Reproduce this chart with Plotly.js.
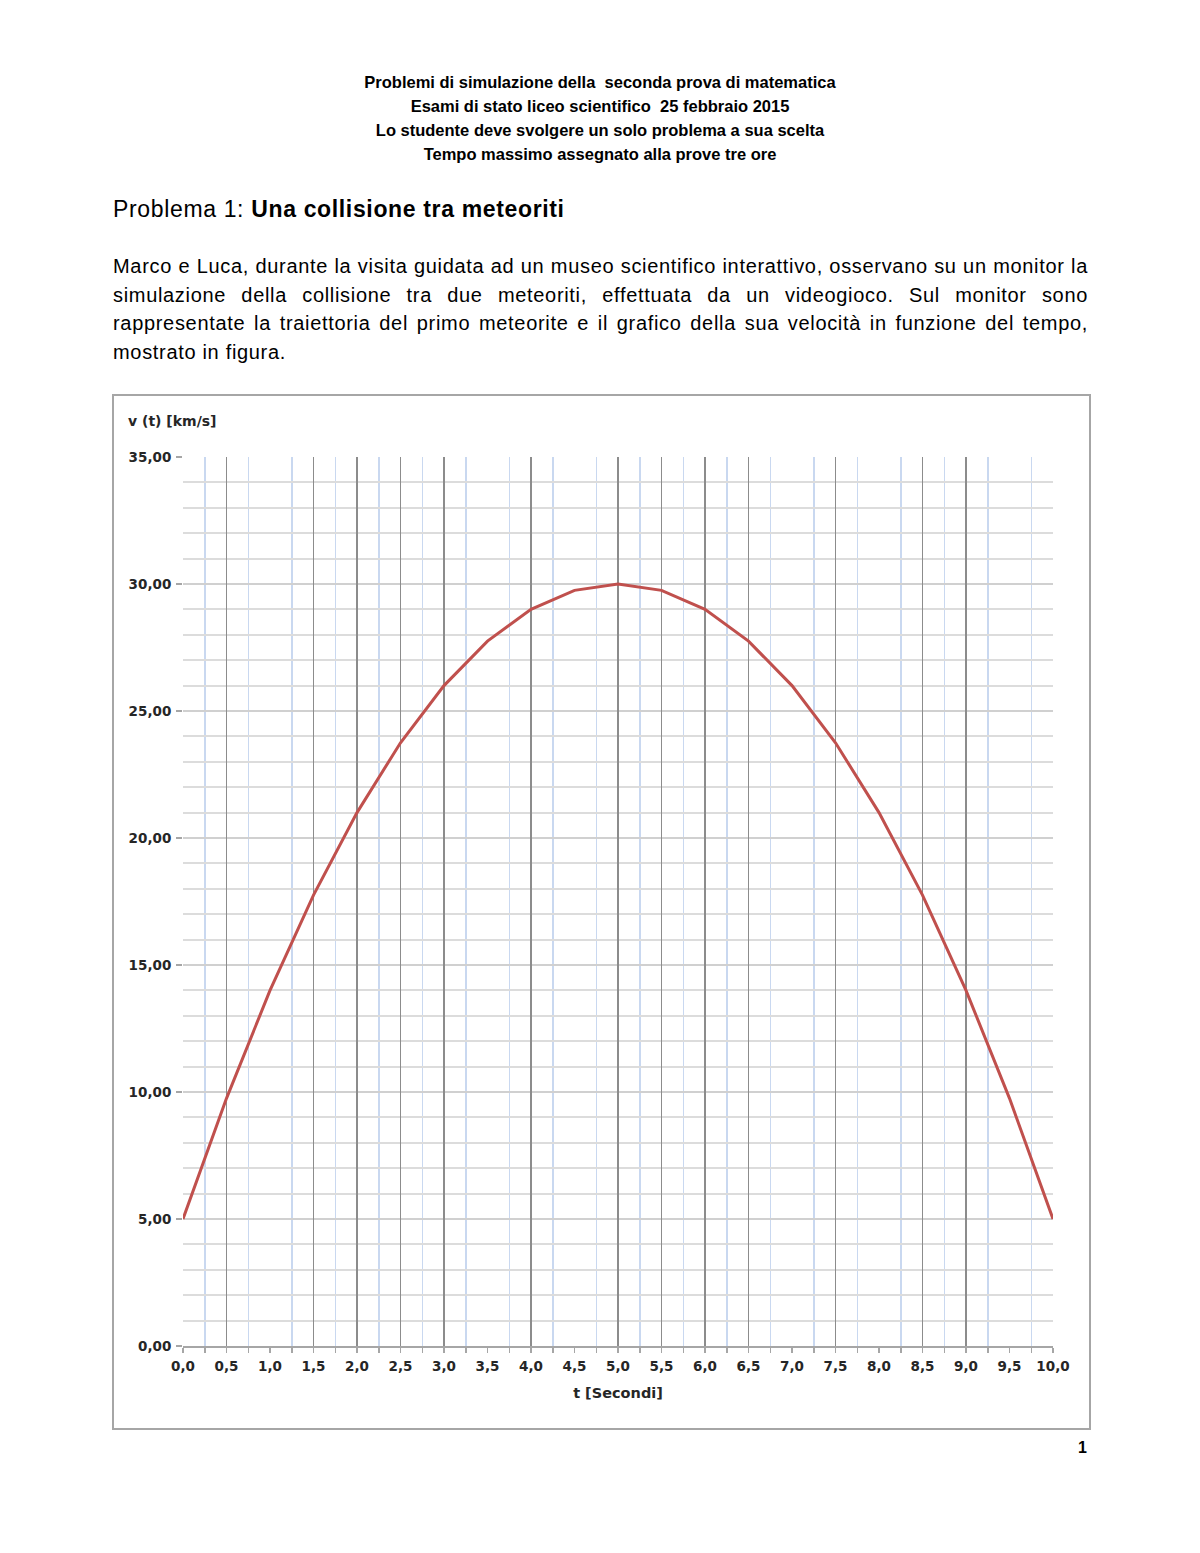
<!DOCTYPE html>
<html>
<head>
<meta charset="utf-8">
<script src="https://cdn.plot.ly/plotly-3.0.1.min.js"></script>
<style>
  body { margin:0; width:1200px; height:1553px; background:#fff; position:relative; font-family:"Liberation Sans", Arial, sans-serif; color:#000; }
  .hdr { position:absolute; left:0; width:1200px; text-align:center; font-size:16.5px; font-weight:bold; }
  .title { position:absolute; left:113px; top:196px; font-size:23px; letter-spacing:0.65px; }
  .para { position:absolute; left:113px; width:975px; font-size:20px; letter-spacing:0.68px; }
  .para div { text-align:justify; text-align-last:justify; height:28.5px; white-space:nowrap; }
  .para div.last { text-align-last:left; }
  #chartbox { position:absolute; left:112px; top:394px; width:975px; height:1032px; border:2px solid #a6a6a6; }
  #chart { width:975px; height:1032px; }
  .pn { position:absolute; left:1078px; top:1439px; font-size:16px; font-weight:bold; }
</style>
</head>
<body>
<div class="hdr" style="top:73px">Problemi di simulazione della &nbsp;seconda prova di matematica</div>
<div class="hdr" style="top:97px">Esami di stato liceo scientifico &nbsp;25 febbraio 2015</div>
<div class="hdr" style="top:121px">Lo studente deve svolgere un solo problema a sua scelta</div>
<div class="hdr" style="top:145px">Tempo massimo assegnato alla prove tre ore</div>
<div class="title">Problema 1: <b>Una collisione tra meteoriti</b></div>
<div class="para" style="top:255px">
  <div>Marco e Luca, durante la visita guidata ad un museo scientifico interattivo, osservano su un monitor la</div>
  <div>simulazione della collisione tra due meteoriti, effettuata da un videogioco. Sul monitor sono</div>
  <div>rappresentate la traiettoria del primo meteorite e il grafico della sua velocità in funzione del tempo,</div>
  <div class="last">mostrato in figura.</div>
</div>
<div id="chartbox"><div id="chart"></div></div>
<div class="pn">1</div>
<script>
const tValues = [0,0.5,1,1.5,2,2.5,3,3.5,4,4.5,5,5.5,6,6.5,7,7.5,8,8.5,9,9.5,10];
const vValues = [5,9.75,14,17.75,21,23.75,26,27.75,29,29.75,30,29.75,29,27.75,26,23.75,21,17.75,14,9.75,5];
const xTickVals = [0,0.5,1,1.5,2,2.5,3,3.5,4,4.5,5,5.5,6,6.5,7,7.5,8,8.5,9,9.5,10];
const xTickText = ["0,0","0,5","1,0","1,5","2,0","2,5","3,0","3,5","4,0","4,5","5,0","5,5","6,0","6,5","7,0","7,5","8,0","8,5","9,0","9,5","10,0"];
const yTickVals = [0,5,10,15,20,25,30,35];
const yTickText = ["0,00","5,00","10,00","15,00","20,00","25,00","30,00","35,00"];
const grayGridT = [0.5,1.5,2,2.5,3,4,5,5.5,6,6.5,7.5,8.5,9,10];

const tickFont = {family:"DejaVu Sans", size:13.5, color:"#262626", weight:'bold'};

const traces = [
  {x:[0,10], y:[null,null], xaxis:'x', yaxis:'y', mode:'lines', showlegend:false, hoverinfo:'skip'},
  {x:tValues, y:vValues, xaxis:'x2', yaxis:'y', mode:'lines', line:{color:'#c0504d', width:3}, showlegend:false}
];

const layout = {
  width:975, height:1032,
  margin:{l:69, r:36, t:61, b:82},
  paper_bgcolor:'#fff', plot_bgcolor:'#fff',
  xaxis:{
    range:[0,10], tickmode:'array', tickvals:xTickVals, ticktext:xTickText,
    showgrid:false, zeroline:false, showline:true, linecolor:'#a6a6a6', linewidth:1.5,
    ticks:'outside', ticklen:5, tickcolor:'#a6a6a6', tickwidth:1.5,
    tickfont:tickFont, ticklabelstandoff:2,
    minor:{tickmode:'linear', tick0:0.25, dtick:0.5, showgrid:true, gridcolor:'#c9d8f0', gridwidth:1.5, ticks:'outside', ticklen:5, tickcolor:'#a6a6a6'},
    title:{text:'<b>t [Secondi]</b>', font:{family:"DejaVu Sans", size:14.5, color:'#262626'}, standoff:15}
  },
  xaxis2:{
    overlaying:'x', matches:'x', range:[0,10], tickmode:'array', tickvals:grayGridT,
    showgrid:true, gridcolor:'#8c8c8c', gridwidth:1.6, showticklabels:false, ticks:'', zeroline:false, showline:false
  },
  yaxis:{
    range:[0,35], tickmode:'array', tickvals:yTickVals, ticktext:yTickText,
    showgrid:true, gridcolor:'#d0d0d0', gridwidth:2, zeroline:false, showline:false,
    ticks:'outside', ticklen:6, tickcolor:'#a6a6a6', tickwidth:1.5,
    tickfont:tickFont, ticklabelstandoff:2,
    minor:{dtick:1, showgrid:true, gridcolor:'#dcdcdc', gridwidth:2}
  },
  annotations:[
    {xref:'paper', yref:'paper', x:-0.0655, y:1.0405, xanchor:'left', yanchor:'middle', showarrow:false,
     text:'<b>v (t) [km/s]</b>', font:{family:"DejaVu Sans", size:14, color:'#262626'}}
  ]
};
Plotly.newPlot('chart', traces, layout, {displayModeBar:false, staticPlot:true});
</script>
</body>
</html>
